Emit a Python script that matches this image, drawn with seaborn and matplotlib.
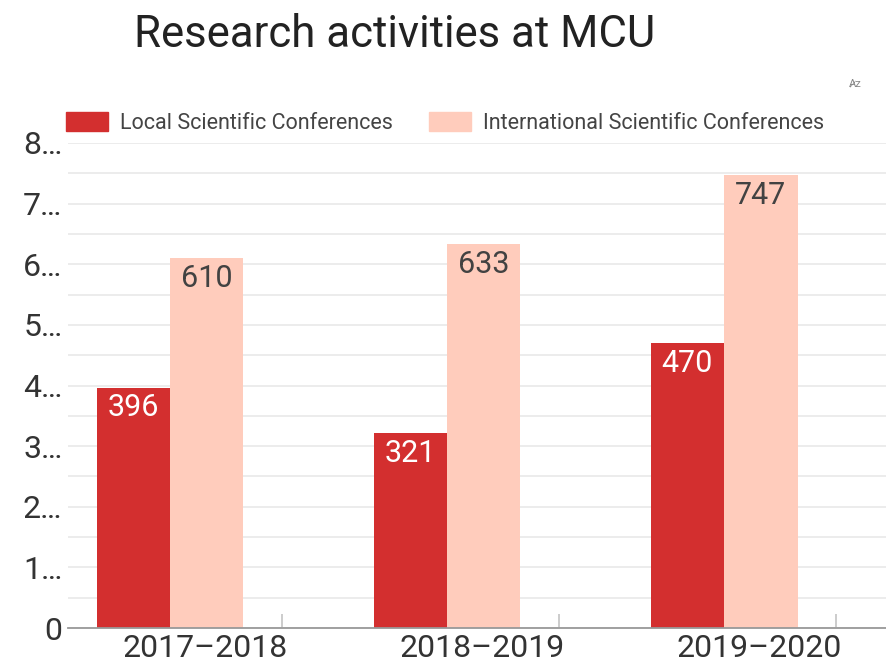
import matplotlib
matplotlib.use("Agg")
import matplotlib.pyplot as plt
import seaborn as sns
import pandas as pd

years = ["2017–2018", "2018–2019", "2019–2020"]
local_conf = [396, 321, 470]
intl_conf = [610, 633, 747]
series = ["Local Scientific Conferences", "International Scientific Conferences"]
colors = ["#D32F2F", "#FFCCBC"]
label_colors = ["white", "#424242"]
y_ticks = [0, 100, 200, 300, 400, 500, 600, 700, 800]
y_tick_labels = ["0", "1…", "2…", "3…", "4…", "5…", "6…", "7…", "8…"]

df = pd.DataFrame({
    "year": years * 2,
    "count": local_conf + intl_conf,
    "series": [series[0]] * 3 + [series[1]] * 3,
})

sns.set_theme(style="white")
plt.rcParams["font.family"] = ["Roboto", "DejaVu Sans"]

fig = plt.figure(figsize=(8.87, 6.66), dpi=100)
ax = fig.add_axes([68 / 887, 38 / 666, 1 - 68 / 887, (628 - 143) / 666])

sns.barplot(data=df, x="year", y="count", hue="series", palette=colors,
            width=0.53, gap=0, saturation=1, linewidth=0, ax=ax, legend=False, zorder=3)

# etiquetas de valor dentro de cada barra
for i, cont in enumerate(ax.containers):
    for bar in cont:
        h = bar.get_height()
        ax.annotate(f"{h:.0f}", (bar.get_x() + bar.get_width() / 2, h),
                    xytext=(0, -4), textcoords="offset points",
                    ha="center", va="top", fontsize=22, color=label_colors[i],
                    zorder=4)

ax.set_ylim(0, 800)
ax.set_xlim(-0.368, 2.588)
ax.set_yticks(y_ticks)
ax.set_yticklabels(y_tick_labels)
ax.set_yticks(range(50, 800, 100), minor=True)
ax.grid(True, axis="y", which="both", color="#EBEBEB", linewidth=1.3, zorder=0)

ax.set_xticks([0.126, 1.126, 2.126])
ax.set_xticklabels(years)
ax.set_xticks([0.404, 1.404, 2.404], minor=True)
ax.tick_params(axis="x", which="major", length=0, labelsize=23, labelcolor="#333333", pad=4)
ax.tick_params(axis="x", which="minor", bottom=True, direction="in", length=10,
               color="#C4C4C4", width=1.2)
ax.tick_params(axis="y", which="both", length=0, labelsize=23, labelcolor="#333333", pad=4)
ax.set_xlabel("")
ax.set_ylabel("")

for s in ["top", "right", "left"]:
    ax.spines[s].set_visible(False)
ax.spines["bottom"].set_color("#999999")
ax.spines["bottom"].set_linewidth(1.3)
ax.spines["bottom"].set_zorder(5)

# leyenda arriba
handles = [plt.Rectangle((0, 0), 1, 1, color=c) for c in colors]
fig.legend(handles, series, loc="center left", bbox_to_anchor=(62 / 887, 1 - 123 / 666),
           ncol=2, frameon=False, fontsize=15.5, handlelength=1.95, handleheight=0.95,
           handletextpad=0.56, columnspacing=1.65, labelcolor="#444444",
           borderaxespad=0, borderpad=0.2)

fig.text(395 / 887, 1 - 35 / 666, "Research activities at MCU", ha="center", va="center",
         fontsize=31.5, color="#222222")
fig.text(855 / 887, 1 - 84 / 666, "A̷z", ha="center", va="center", fontsize=8, color="#888888")

plt.savefig("out.png", dpi=100)
plt.close()
